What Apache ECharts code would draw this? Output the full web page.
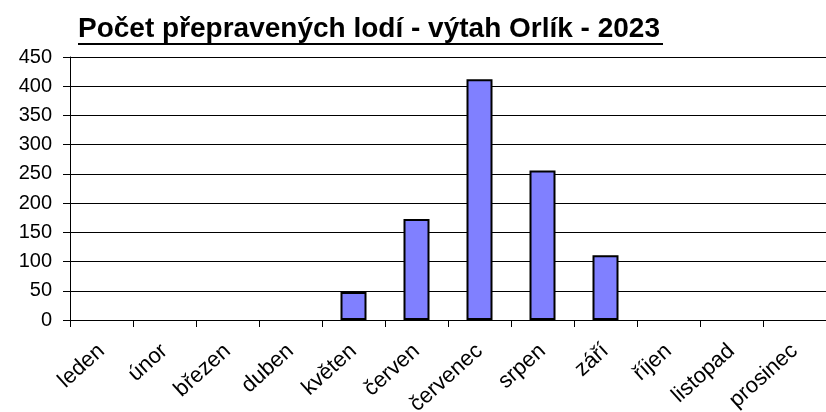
<!DOCTYPE html>
<html>
<head>
<meta charset="utf-8">
<script src="https://cdn.jsdelivr.net/npm/echarts@6/dist/echarts.min.js"></script>
<style>
  html, body { margin: 0; padding: 0; background: #fff; }
  #chart { width: 826px; height: 412px; }
</style>
</head>
<body>
<div id="chart"></div>
<script>
// data
var months = ['leden', 'únor', 'březen', 'duben', 'květen', 'červen',
              'červenec', 'srpen', 'září', 'říjen', 'listopad', 'prosinec'];
var lode = [0, 0, 0, 0, 48, 173, 412, 256, 111, 0, 0, 0];
var chartTitle = 'Počet přepravených lodí - výtah Orlík - 2023';

// zero months: no outline drawn (like the original)
var barData = lode.map(function (v) {
    return v === 0 ? { value: v, itemStyle: { borderWidth: 0 } } : v;
});

var chart = echarts.init(document.getElementById('chart'));

var option = {
    animation: false,
    backgroundColor: '#fff',
    textStyle: { fontFamily: 'Liberation Sans' },
    grid: { left: 70, right: 0, top: 57, bottom: 92, outerBoundsMode: 'none' },
    graphic: [
        {
            type: 'text',
            left: 78,
            top: 15,
            style: {
                text: chartTitle,
                font: 'bold 28px "Liberation Sans"',
                fill: '#000'
            }
        },
        {
            type: 'rect',
            shape: { x: 78, y: 43, width: 585, height: 2 },
            style: { fill: '#000' }
        }
    ],
    xAxis: {
        type: 'category',
        data: months,
        boundaryGap: true,
        axisLine: { lineStyle: { color: '#000', width: 1 } },
        axisTick: { show: true, length: 7, lineStyle: { color: '#000' } },
        axisLabel: {
            rotate: 42,
            color: '#000',
            fontSize: 22,
            margin: 28,
            interval: 0
        }
    },
    yAxis: {
        type: 'value',
        min: 0,
        max: 450,
        interval: 50,
        axisLine: { show: true, lineStyle: { color: '#000', width: 1 } },
        axisTick: { show: true, length: 7, lineStyle: { color: '#000' } },
        axisLabel: { color: '#000', fontSize: 20, margin: 18 },
        splitLine: { lineStyle: { color: '#000', width: 1 } }
    },
    series: [{
        type: 'bar',
        data: barData,
        barWidth: 26,
        itemStyle: {
            color: '#8080ff',
            borderColor: '#000',
            borderWidth: 2
        }
    }]
};

chart.setOption(option);
</script>
</body>
</html>
